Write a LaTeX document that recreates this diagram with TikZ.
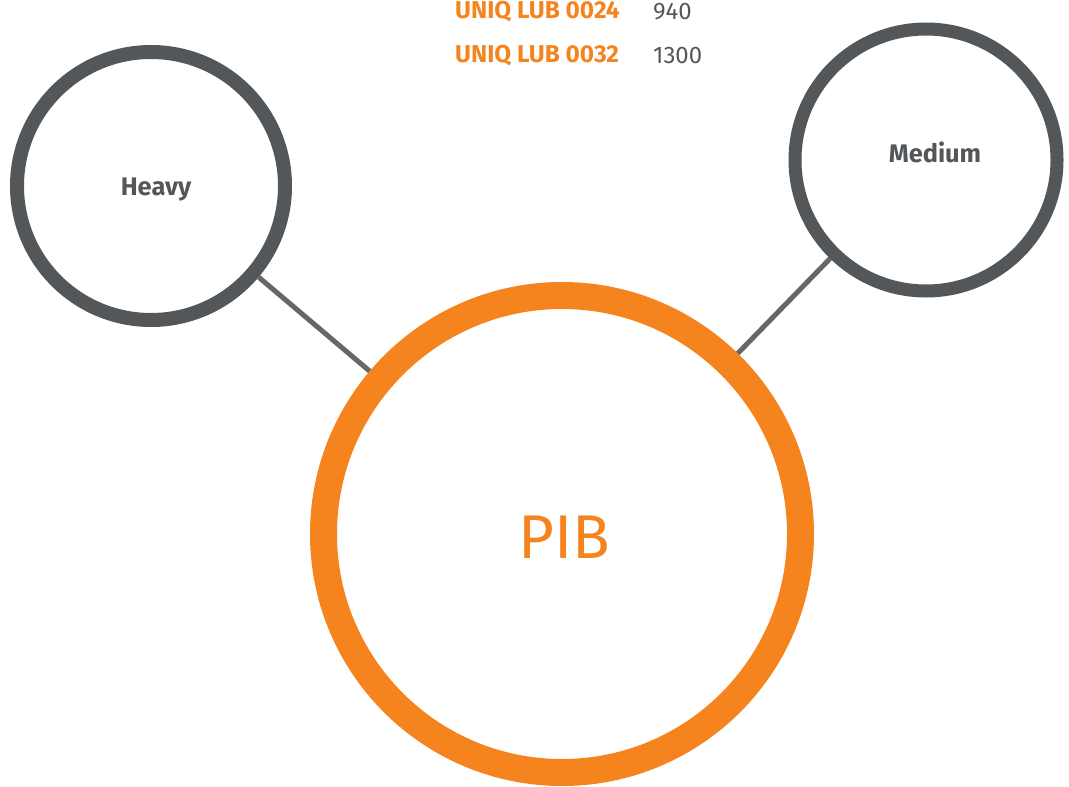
\documentclass[tikz,border=0pt]{standalone}
\usepackage{fontspec}
\setmainfont{Fira Sans}
\definecolor{pibor}{HTML}{F5841F}
\definecolor{ringgray}{HTML}{54575A}
\definecolor{linegray}{HTML}{65686B}
\begin{document}
\begin{tikzpicture}[x=1bp,y=-1bp,
  ring/.style={circle,draw=ringgray,line width=14bp,inner sep=0pt,minimum size=268bp},
  ringtext/.style={text=ringgray,font=\bfseries\fontsize{25.5}{26}\selectfont,inner sep=0pt},
  pibring/.style={circle,draw=pibor,line width=27bp,inner sep=0pt,minimum size=477bp},
  link/.style={draw=linegray,line width=5bp},
  code/.style={anchor=west,text=pibor,font=\bfseries\fontsize{24.5}{24.5}\selectfont,inner sep=0pt},
  val/.style={anchor=west,text=ringgray,font=\fontsize{24}{24}\selectfont,inner sep=0pt}]
\useasboundingbox (0,0) rectangle (1069,787);
\clip (0,0) rectangle (1069,787);
\node[ring] (heavy) at (151,186) {};
\node[ringtext] (heavyt) at (156,190) {Heavy};
\node[ring,minimum size=262bp,line width=13bp] (medium) at (926,160) {};
\node[ringtext] (mediumt) at (935,152) {Medium};
\node[pibring] (pib) at (562,534) {};
\node[text=pibor,font=\fontsize{62}{62}\selectfont,inner sep=0pt] (pibt) at (564,537) {PIB};
\draw[link] (heavy) -- (pib);
\draw[link] (medium) -- (pib);
\node[code] (c1) at (455,12) {UNIQ LUB 0024};
\node[val] (v1) at (653,12) {940};
\node[code] (c2) at (455,56) {UNIQ LUB 0032};
\node[val] (v2) at (653,56) {1300};
\end{tikzpicture}
\end{document}
